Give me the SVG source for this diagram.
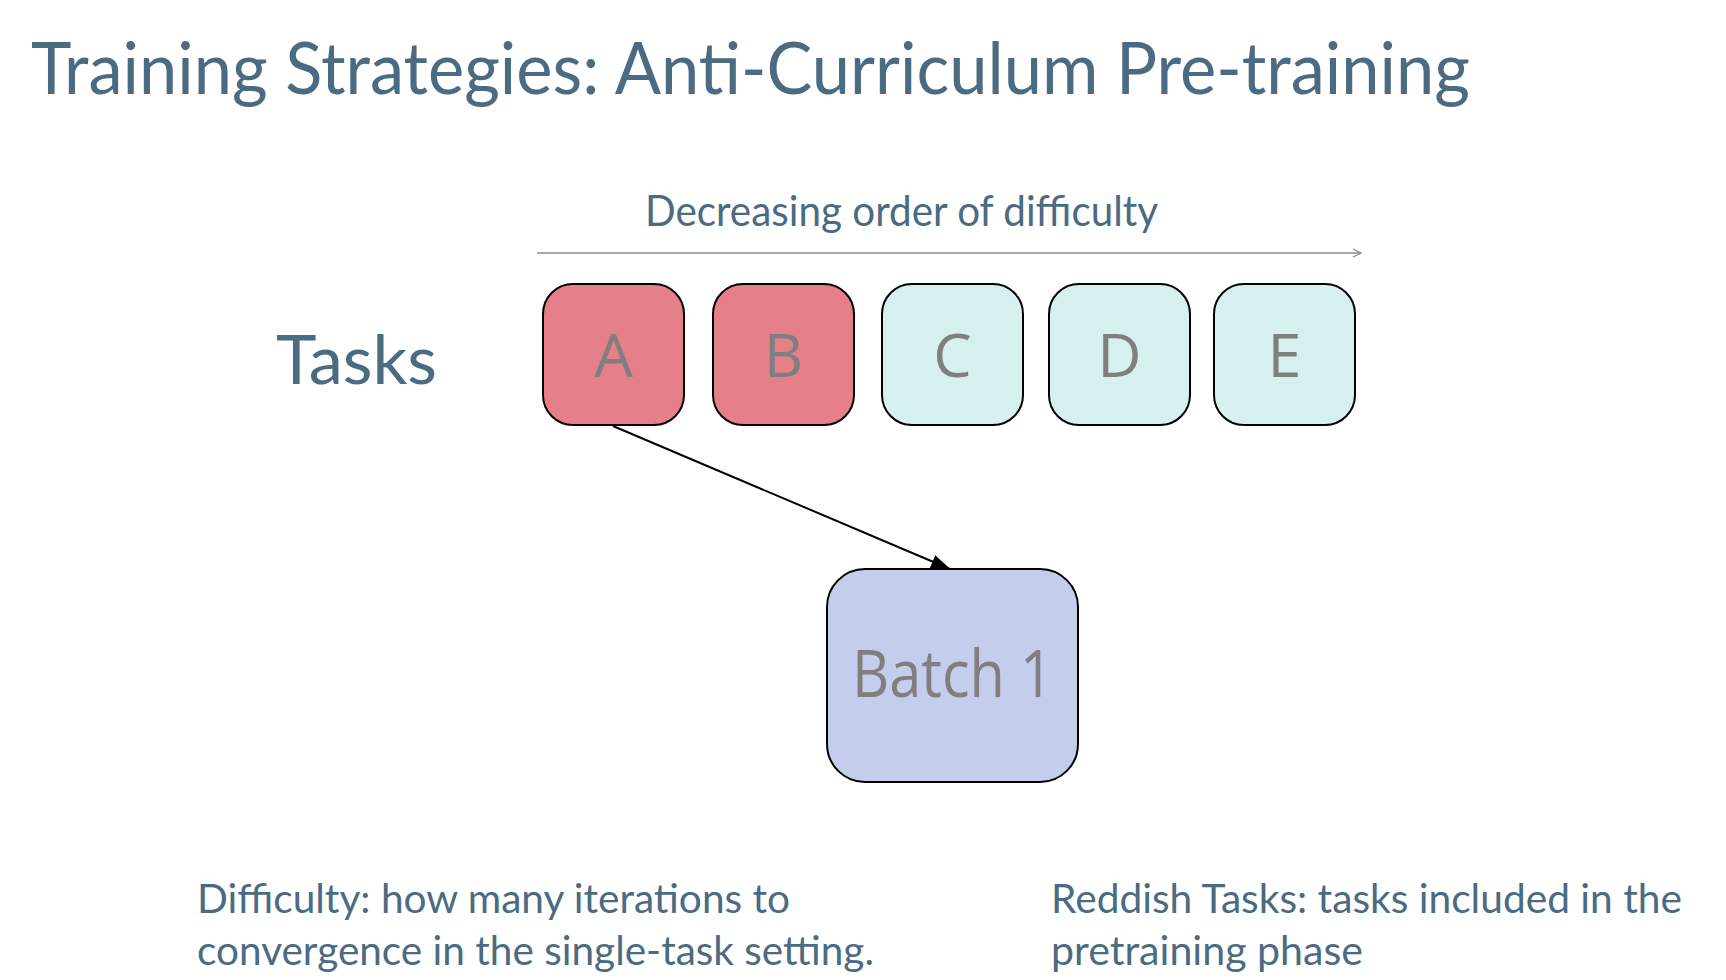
<svg xmlns="http://www.w3.org/2000/svg" width="1726" height="980" viewBox="0 0 1726 980">
<style>
.hd{font-family:Lato,"Liberation Sans",sans-serif;fill:#4b6b82}
.task{stroke:#000;stroke-width:2}
.red{fill:#e57f8a}
.cyan{fill:#d5f0ef}
.lbl{font-family:"Open Sans","Liberation Sans",sans-serif;fill:#7f7f7f;text-anchor:middle}
</style>
<defs>
<marker id="ah" markerWidth="20" markerHeight="14" refX="19" refY="7" orient="auto" markerUnits="userSpaceOnUse" viewBox="0 0 20 14"><path d="M0,0 L20,7 L0,14 Z" fill="#000"/></marker>
<marker id="oh" markerWidth="10" markerHeight="10" refX="9" refY="5" orient="auto" markerUnits="userSpaceOnUse" viewBox="0 0 10 10"><path d="M1,1 L9,5 L1,9" fill="none" stroke="#8c8c8c" stroke-width="1.2"/></marker>
</defs>
<rect width="1726" height="980" fill="#fff"/>
<text class="hd" x="31" y="94" font-size="71" textLength="1439" lengthAdjust="spacingAndGlyphs">Training Strategies: Anti-Curriculum Pre-training</text>
<text class="hd" x="645" y="226" font-size="42" textLength="513" lengthAdjust="spacingAndGlyphs">Decreasing order of difficulty</text>
<text class="hd" x="276" y="384" font-size="68" textLength="161" lengthAdjust="spacingAndGlyphs">Tasks</text>
<g id="connectors">
<line x1="537" y1="253" x2="1361" y2="253" stroke="#8c8c8c" stroke-width="1.3" marker-end="url(#oh)"/>
<line x1="613" y1="426" x2="950" y2="569" stroke="#000" stroke-width="2" marker-end="url(#ah)"/>
</g>
<g id="nodeA"><rect class="task red" x="543" y="284" width="141" height="141" rx="30"/><text class="lbl" x="613.5" y="377" font-size="61">A</text></g>
<g id="nodeB"><rect class="task red" x="713" y="284" width="141" height="141" rx="30"/><text class="lbl" x="783.5" y="377" font-size="61">B</text></g>
<g id="nodeC"><rect class="task cyan" x="882" y="284" width="141" height="141" rx="30"/><text class="lbl" x="952.5" y="377" font-size="61">C</text></g>
<g id="nodeD"><rect class="task cyan" x="1049" y="284" width="141" height="141" rx="30"/><text class="lbl" x="1119.5" y="377" font-size="61">D</text></g>
<g id="nodeE"><rect class="task cyan" x="1214" y="284" width="141" height="141" rx="30"/><text class="lbl" x="1284.5" y="377" font-size="61">E</text></g>
<g id="batch1"><rect x="827" y="569" width="251" height="213" rx="38" fill="#c5cdec" stroke="#000" stroke-width="2"/><text class="lbl" x="952.5" y="697" font-size="65" textLength="201" lengthAdjust="spacingAndGlyphs">Batch 1</text></g>
<text class="hd" x="197" y="913" font-size="40" textLength="593" lengthAdjust="spacingAndGlyphs">Difficulty: how many iterations to</text>
<text class="hd" x="197" y="965" font-size="40" textLength="677" lengthAdjust="spacingAndGlyphs">convergence in the single-task setting.</text>
<text class="hd" x="1051" y="913" font-size="40" textLength="631" lengthAdjust="spacingAndGlyphs">Reddish Tasks: tasks included in the</text>
<text class="hd" x="1051" y="965" font-size="40" textLength="312" lengthAdjust="spacingAndGlyphs">pretraining phase</text>
</svg>
